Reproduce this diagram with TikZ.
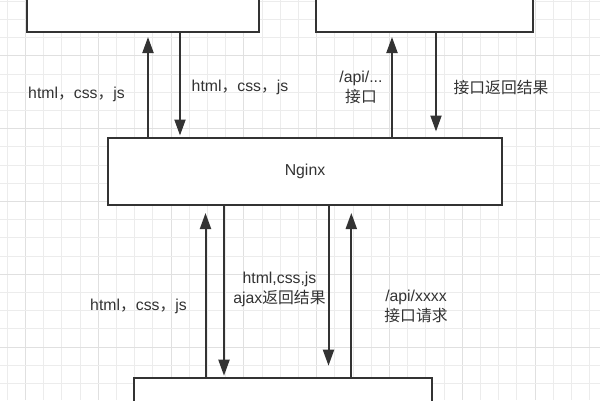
\documentclass[tikz,border=0pt]{standalone}
\usepackage{fontspec}
\setmainfont{Liberation Sans}
\newfontfamily\cjk{Noto Sans CJK SC}
\usetikzlibrary{arrows.meta}
\definecolor{ink}{HTML}{333333}
\definecolor{gridminor}{HTML}{ECECEC}
\definecolor{gridmajor}{HTML}{E0E0E0}
\begin{document}
\begin{tikzpicture}[x=1pt,y=-1pt,
  box/.style={draw=ink, line width=2pt, fill=white, outer sep=0pt, inner sep=0pt, text=ink, font=\fontsize{15.8}{18}\selectfont},
  arr/.style={draw=ink, line width=2pt, -{Triangle[length=16pt,width=11pt]}},
  lbl/.style={text=ink, font=\fontsize{15.8}{20}\selectfont, align=center, inner sep=0pt}]
\path[use as bounding box] (0,0) rectangle (600,400);
\clip (0,0) rectangle (600,400);
\fill[white] (0,0) rectangle (600,400);
\foreach \k in {0,...,32}{
  \pgfmathsetmacro\xx{7.3+18.2*\k}
  \pgfmathtruncatemacro\m{mod(\k,4)}
  \ifnum\m=1 \draw[gridmajor, line width=1pt] (\xx,0) -- (\xx,400);
  \else \draw[gridminor, line width=1pt] (\xx,0) -- (\xx,400);\fi
}
\foreach \k in {0,...,21}{
  \pgfmathsetmacro\yy{1.2+18.2*\k}
  \pgfmathtruncatemacro\m{mod(\k,4)}
  \ifnum\m=3 \draw[gridmajor, line width=1pt] (0,\yy) -- (600,\yy);
  \else \draw[gridminor, line width=1pt] (0,\yy) -- (600,\yy);\fi
}
% boxes
\node[box, minimum width=232.3pt, minimum height=80pt, anchor=south west] (tl) at (27,32) {};
\node[box, minimum width=217.3pt, minimum height=80pt, anchor=south west] (tr) at (316,32) {};
\node[box, minimum width=394pt, minimum height=67.5pt, anchor=north west] (ng) at (108,137.5) {Nginx};
\node[box, minimum width=298pt, minimum height=80pt, anchor=north west] (bt) at (134.3,377.7) {};
% top arrows
\draw[arr, shorten >=5pt] ([xshift=40pt]ng.north west) -- ([xshift=121pt]tl.south west);
\draw[arr, shorten >=2pt] ([xshift=153pt]tl.south west) -- ([xshift=72pt]ng.north west);
\draw[arr, shorten >=5pt] ([xshift=284pt]ng.north west) -- ([xshift=76pt]tr.south west);
\draw[arr, shorten >=6pt] ([xshift=120pt]tr.south west) -- ([xshift=328pt]ng.north west);
% bottom arrows
\draw[arr, shorten >=8pt] ([xshift=71.2pt]bt.north west) -- ([xshift=97.5pt]ng.south west);
\draw[arr, shorten >=2pt] ([xshift=116pt]ng.south west) -- ([xshift=89.7pt]bt.north west);
\draw[arr, shorten >=12pt] ([xshift=220.5pt]ng.south west) -- ([xshift=194.2pt]bt.north west);
\draw[arr, shorten >=8pt] ([xshift=217pt]bt.north west) -- ([xshift=243.3pt]ng.south west);
% labels
\node[lbl] (l1) at (76.5,94) {html{\cjk ，}css{\cjk ，}js};
\node[lbl] (l2) at (240,87) {html{\cjk ，}css{\cjk ，}js};
\node[lbl] (l3) at (361,87) {/api/...\\{\cjk 接口}};
\node[lbl] (l4) at (501,87) {\cjk 接口返回结果};
\node[lbl] (l5) at (279.5,289) {html,css,js\\ajax{\cjk 返回结果}};
\node[lbl] (l6) at (138.5,306) {html{\cjk ，}css{\cjk ，}js};
\node[lbl] (l7) at (416,306) {/api/xxxx\\{\cjk 接口请求}};
\end{tikzpicture}
\end{document}
